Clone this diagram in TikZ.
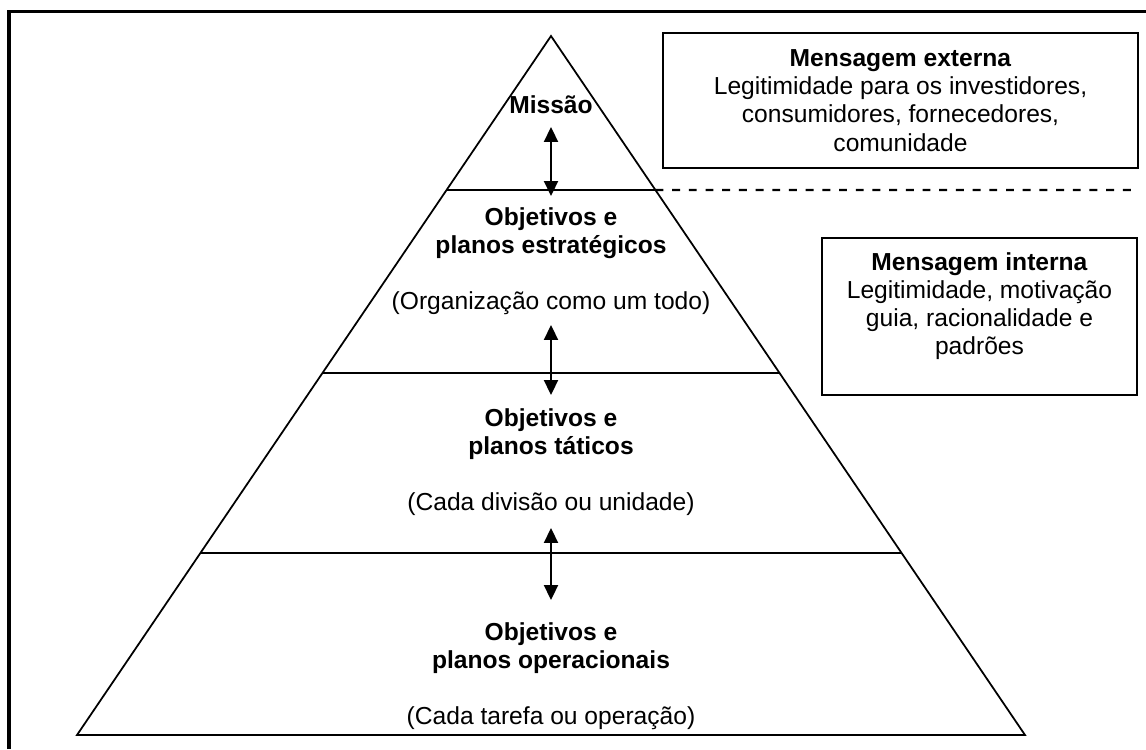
\documentclass[tikz,border=0pt]{standalone}
\usepackage{fontspec}
\setmainfont{Liberation Sans}
\usetikzlibrary{arrows.meta,calc}

\tikzset{
    lvltitle/.style={font=\fontsize{14}{16}\selectfont\bfseries},
    lvlnote/.style={font=\fontsize{14}{16}\selectfont},
    msgbox/.style={draw, line width=1pt, inner sep=0pt, font=\fontsize{14}{16}\selectfont}
}

\begin{document}
\begin{tikzpicture}[>={Triangle[length=8.5pt,width=8pt]}, every node/.style={align=center, inner sep=0pt}]
                \useasboundingbox (0,0) rectangle (22.92,-14.98);

                % Frame
                \draw[line width=1.8pt] (0.18,-14.98) -- (0.18,-0.23) -- (22.92,-0.23);

                % Pyramid
                \coordinate (top) at (11.02,-0.72);
                \coordinate (bl) at (1.54,-14.70);
                \coordinate (br) at (20.50,-14.70);
                \draw[line width=1pt, line join=miter] (bl) -- (top) -- (br) -- cycle;

                \coordinate (l1) at ($(top)!0.2203!(bl)$);
                \coordinate (r1) at ($(top)!0.2203!(br)$);
                \coordinate (l2) at ($(top)!0.4821!(bl)$);
                \coordinate (r2) at ($(top)!0.4821!(br)$);
                \coordinate (l3) at ($(top)!0.7396!(bl)$);
                \coordinate (r3) at ($(top)!0.7396!(br)$);
                \coordinate (dashend) at (22.70,-3.80);

                \draw[line width=1.5pt] (l1) -- (r1);
                \draw[line width=1.5pt] (l2) -- (r2);
                \draw[line width=1.5pt] (l3) -- (r3);
                \draw[line width=1.3pt, dash pattern=on 4.5pt off 5pt] (r1) -- (dashend);

                % Nodes
                \node[lvltitle] at (11.02,-2.10) (missao) {Missão};

                \node[lvltitle] at (11.02,-4.66) (estr) {Objetivos e\\planos estratégicos};
                \node[lvlnote] at (11.02,-6.06) (estrnote) {(Organização como um todo)};

                \node[lvltitle] at (11.02,-8.68) (tat) {Objetivos e\\planos táticos};
                \node[lvlnote] at (11.02,-10.08) (tatnote) {(Cada divisão ou unidade)};

                \node[lvltitle] at (11.02,-12.96) (oper) {Objetivos e\\planos operacionais};
                \node[lvlnote] at (11.02,-14.36) (opernote) {(Cada tarefa ou operação)};

                \node[msgbox, minimum width=9.50cm, minimum height=2.70cm] at (18.01,-2.01) (externa)
                    {\textbf{Mensagem externa}\\Legitimidade para os investidores,\\consumidores, fornecedores,\\comunidade};
                \node[msgbox, minimum width=6.30cm, minimum height=3.14cm] at (19.59,-6.33) (interna)
                    {\textbf{Mensagem interna}\\Legitimidade, motivação\\guia, racionalidade e\\padrões\\[-6pt]\strut};

                % Edges
                \coordinate (a1t) at (11.02,-2.54);
                \coordinate (a1b) at (11.02,-3.92);
                \coordinate (a2t) at (11.02,-6.50);
                \coordinate (a2b) at (11.02,-7.90);
                \coordinate (a3t) at (11.02,-10.56);
                \coordinate (a3b) at (11.02,-12.00);

                \draw[<->, line width=1pt] (a1t) -- (a1b);
                \draw[<->, line width=1pt] (a2t) -- (a2b);
                \draw[<->, line width=1pt] (a3t) -- (a3b);
            \end{tikzpicture}
\end{document}
